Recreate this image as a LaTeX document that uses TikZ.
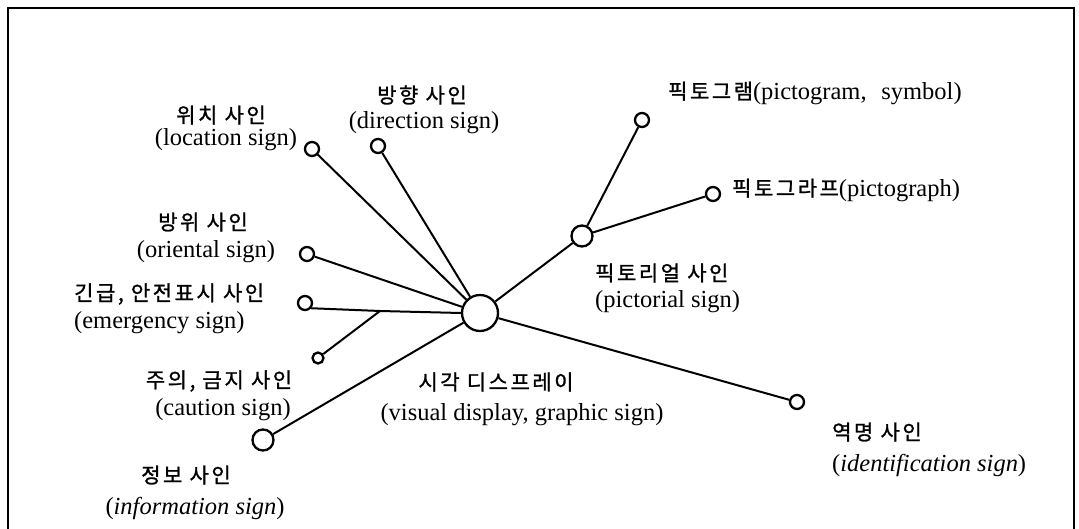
\documentclass[tikz,border=0pt]{standalone}
\usepackage{fontspec}
\setmainfont{Liberation Serif}
\newfontfamily\kr[LetterSpace=12,FakeBold=1.2]{Noto Sans CJK KR}
\usetikzlibrary{positioning}
\tikzset{
  hub/.style={circle,draw=black,fill=white,line width=2.3pt,inner sep=0pt,minimum size=36pt},
  knot/.style={circle,draw=black,fill=white,line width=2.3pt,inner sep=0pt,minimum size=14pt},
  bigknot/.style={knot,minimum size=21pt},
  vline/.style={line width=2pt,draw=black},
  frame/.style={line width=2pt,draw=black},
  klab/.style={inner sep=0pt,font=\kr\fontsize{21}{21}\selectfont},
  elab/.style={inner sep=0pt,font=\fontsize{24.5}{24.5}\selectfont}
}
\begin{document}
\begin{tikzpicture}[x=1pt,y=-1pt]
  \useasboundingbox (0,0) rectangle (1079,529);
  \draw[frame] (8,529) -- (8,8) -- (1074,8) -- (1074,529);
  \node[hub] (vis) at (480,313) {};
  \node[knot] (loc) at (312,149) {};
  \node[knot] (dir) at (378,146) {};
  \node[knot] (ori) at (307,254) {};
  \node[knot] (emg) at (305,303) {};
  \node[knot,minimum size=11pt] (cau) at (318,358) {};
  \node[bigknot] (inf) at (263,440) {};
  \node[bigknot] (pic) at (582,236) {};
  \node[knot] (pgm) at (642,120) {};
  \node[knot] (pgr) at (713,194) {};
  \node[knot] (idn) at (797,402) {};
  \coordinate (jn) at (380,311);
  \draw[vline] (loc) -- (vis);
  \draw[vline] (dir) -- (vis);
  \draw[vline] (ori) -- (vis);
  \draw[vline] (emg.-40) -- (jn) -- (vis.west);
  \draw[vline] (cau) -- (jn);
  \draw[vline] (inf) -- (vis);
  \draw[vline] (pic) -- (vis);
  \draw[vline] (pic) -- (pgm);
  \draw[vline] (pic) -- (pgr);
  \draw[vline] (idn) -- (vis);
  \node[klab] (locK) at (221,115) {위치 사인};
  \node[elab] (locE) at (226,140) {(location sign)};
  \node[klab] (dirK) at (422,95) {방향 사인};
  \node[elab] (dirE) at (424,123) {(direction sign)};
  \node[klab] (oriK) at (203,222) {방위 사인};
  \node[elab] (oriE) at (206,252) {(oriental sign)};
  \node[klab,anchor=west] (emgK) at (74,294) {긴급, 안전표시 사인};
  \node[elab,anchor=west] (emgE) at (74,323) {(emergency sign)};
  \node[klab] (cauK) at (219,381) {주의, 금지 사인};
  \node[elab] (cauE) at (223,410) {(caution sign)};
  \node[klab] (infK) at (186,475) {정보 사인};
  \node[elab] (infE) at (195,508) {(\textit{information sign})};
  \node[klab] (visK) at (496,382) {시각 디스프레이};
  \node[elab] (visE) at (522,415) {(visual display, graphic sign)};
  \node[anchor=west,inner sep=0pt] (pgmT) at (668,93) {{\kr\fontsize{21}{21}\selectfont 픽토그램}{\fontsize{24.5}{24.5}\selectfont(pictogram,\hspace{0.6em}symbol)}};
  \node[anchor=west,inner sep=0pt] (pgrT) at (732,190) {{\kr\fontsize{21}{21}\selectfont 픽토그라프}{\fontsize{24.5}{24.5}\selectfont(pictograph)}};
  \node[klab,anchor=west] (picK) at (595,273) {픽토리얼 사인};
  \node[elab,anchor=west] (picE) at (595,302) {(pictorial sign)};
  \node[klab,anchor=west] (idnK) at (832,432) {역명 사인};
  \node[elab,anchor=west] (idnE) at (832,465) {(\textit{identification sign})};
\end{tikzpicture}
\end{document}
